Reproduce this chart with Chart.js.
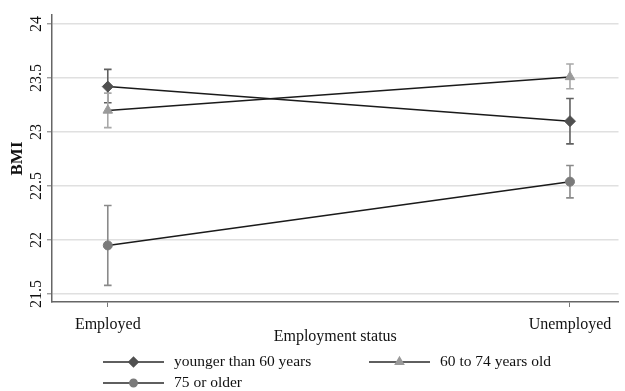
<!DOCTYPE html>
<html><head><meta charset="utf-8">
<script src="https://cdn.jsdelivr.net/npm/chart.js@4/dist/chart.umd.min.js"></script>
<style>html,body{margin:0;padding:0;background:#fff;}</style>
</head><body>
<canvas id="c" width="625" height="391"></canvas>
<script>
// ---- data ----
const categories = ['Employed', 'Unemployed'];
const seriesNames = ['younger than 60 years', '60 to 74 years old', '75 or older'];
const younger = [23.42, 23.10];
const youngerLow = [23.27, 22.89];
const youngerHigh = [23.58, 23.31];
const middle = [23.20, 23.51];
const middleLow = [23.04, 23.40];
const middleHigh = [23.36, 23.63];
const older = [21.95, 22.54];
const olderLow = [21.58, 22.39];
const olderHigh = [22.32, 22.69];
const yTicks = [21.5, 22, 22.5, 23, 23.5, 24];
const xTitle = 'Employment status';
const yTitle = 'BMI';

const FONT = "'Liberation Serif', 'Times New Roman', serif";
const styles = [
  {marker: 'rectRot', radius: 5.5, fill: '#505050', bar: '#606060'},
  {marker: 'triangle', radius: 5.5, fill: '#9a9a9a', bar: '#a8a8a8'},
  {marker: 'circle', radius: 4.5, fill: '#7a7a7a', bar: '#8a8a8a'}
];
const seriesValues = [younger, middle, older];
const seriesLow = [youngerLow, middleLow, olderLow];
const seriesHigh = [youngerHigh, middleHigh, olderHigh];

const datasets = seriesNames.map((name, i) => ({
  label: name,
  data: seriesValues[i].map((v, j) => ({x: j, y: v})),
  borderColor: '#1a1a1a',
  borderWidth: 1.5,
  pointStyle: styles[i].marker,
  pointRadius: styles[i].radius,
  pointBackgroundColor: styles[i].fill,
  pointBorderColor: styles[i].fill,
  pointBorderWidth: 1,
  fill: false,
  tension: 0
}));

const errorBars = {
  id: 'errorBars',
  beforeDatasetsDraw(chart) {
    const ctx = chart.ctx, xs = chart.scales.x, ys = chart.scales.y;
    ctx.save();
    seriesNames.forEach((n, i) => {
      ctx.strokeStyle = styles[i].bar;
      ctx.lineWidth = 1.6;
      seriesValues[i].forEach((v, j) => {
        const px = xs.getPixelForValue(j);
        const lo = ys.getPixelForValue(seriesLow[i][j]);
        const hi = ys.getPixelForValue(seriesHigh[i][j]);
        ctx.beginPath();
        ctx.moveTo(px, lo); ctx.lineTo(px, hi);
        ctx.moveTo(px - 3.8, lo); ctx.lineTo(px + 3.8, lo);
        ctx.moveTo(px - 3.8, hi); ctx.lineTo(px + 3.8, hi);
        ctx.stroke();
      });
    });
    ctx.restore();
  }
};

const legendPos = [
  {x: 103, y: 362}, {x: 369, y: 362}, {x: 103, y: 383}
];
const customLegend = {
  id: 'customLegend',
  afterDraw(chart) {
    const ctx = chart.ctx;
    ctx.save();
    chart.data.datasets.forEach((ds, i) => {
      const p = legendPos[i];
      ctx.strokeStyle = '#2a2a2a';
      ctx.lineWidth = 1.5;
      ctx.beginPath(); ctx.moveTo(p.x, p.y); ctx.lineTo(p.x + 61, p.y); ctx.stroke();
      ctx.fillStyle = styles[i].fill; ctx.strokeStyle = styles[i].fill;
      Chart.helpers.drawPoint(ctx, {pointStyle: styles[i].marker, radius: styles[i].radius - 0.8, rotation: 0, borderWidth: 1}, p.x + 30.5, p.y);
      ctx.fillStyle = '#111';
      ctx.font = "15.5px " + FONT;
      ctx.textBaseline = 'middle';
      ctx.textAlign = 'left';
      ctx.fillText(ds.label, p.x + 71, p.y);
    });
    ctx.restore();
  }
};

new Chart(document.getElementById('c'), {
  type: 'line',
  data: {datasets},
  options: {
    responsive: false,
    animation: false,
    events: [],
    layout: {padding: {top: 15, right: 4, bottom: 44.4, left: 0}},
    plugins: {legend: {display: false}, tooltip: {enabled: false}},
    scales: {
      x: {
        type: 'linear',
        min: -0.1207,
        max: 1.105,
        afterBuildTicks(scale) { scale.ticks = categories.map((c, j) => ({value: j})); },
        afterFit(scale) { scale.height = 44.6; },
        ticks: {
          callback: (v) => categories[v] ?? '',
          font: {family: FONT, size: 16},
          color: '#111',
          padding: 8,
          maxRotation: 0, minRotation: 0
        },
        grid: {drawOnChartArea: false, drawTicks: true, tickLength: 5, tickColor: '#777', tickWidth: 1},
        border: {color: '#666', width: 1.5},
        title: {display: true, text: xTitle, font: {family: FONT, size: 16}, color: '#111', padding: {top: 0, bottom: 0}}
      },
      y: {
        type: 'linear',
        min: 21.426,
        max: 24.083,
        afterBuildTicks(scale) { scale.ticks = yTicks.map(v => ({value: v})); },
        afterFit(scale) { scale.width = 52; },
        ticks: {
          callback: (v) => String(v),
          font: {family: FONT, size: 16},
          color: '#111',
          minRotation: 90, maxRotation: 90,
          crossAlign: 'center',
          padding: -4
        },
        grid: {color: '#e0e0e0', lineWidth: 1.6, drawTicks: true, tickLength: 5, tickColor: '#777', tickWidth: 1},
        border: {color: '#666', width: 1.5},
        title: {display: true, text: yTitle, font: {family: FONT, size: 17, weight: 'bold'}, color: '#111', padding: {top: 7, bottom: 0}}
      }
    }
  },
  plugins: [errorBars, customLegend]
});
</script>
</body></html>
